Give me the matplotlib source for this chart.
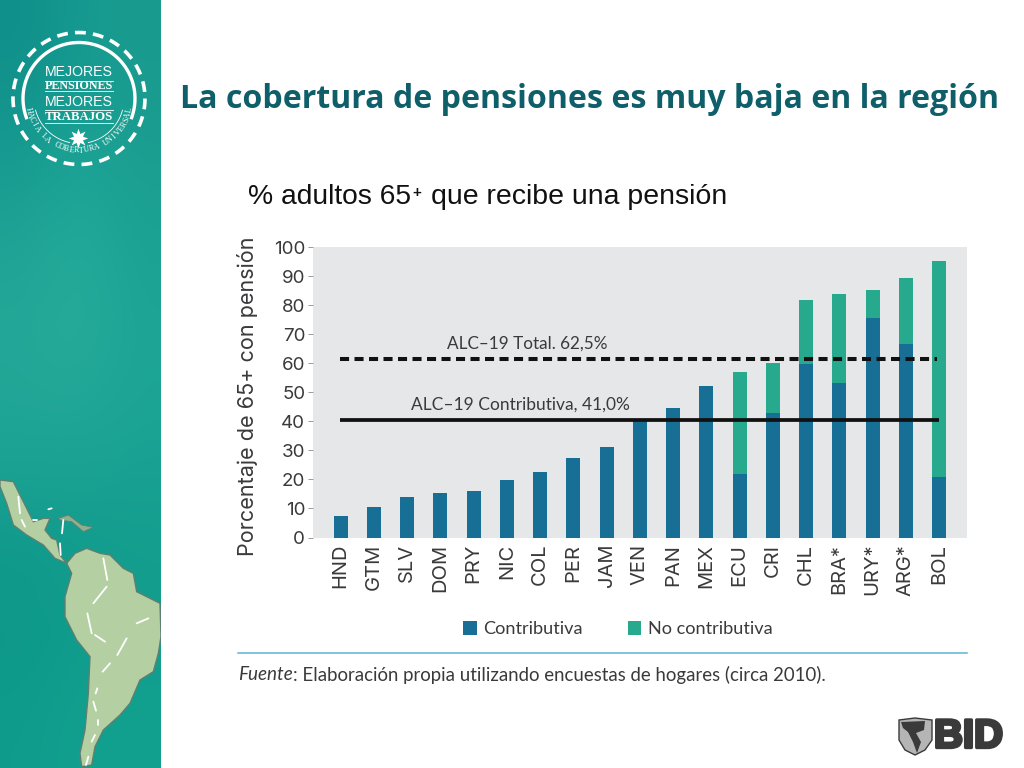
import numpy as np
import matplotlib
matplotlib.use("Agg")
import matplotlib.pyplot as plt
import matplotlib.patheffects as pe
from matplotlib.colors import to_rgb
from matplotlib.patches import Rectangle, Polygon

cats = ["HND","GTM","SLV","DOM","PRY","NIC","COL","PER","JAM","VEN","PAN","MEX","ECU","CRI","CHL","BRA*","URY*","ARG*","BOL"]
contrib = [7.3,10.6,13.9,15.3,15.9,19.7,22.5,27.2,31.2,40.3,44.7,52.0,21.9,43.0,59.8,53.2,75.6,66.7,20.9]
nocontrib = [0,0,0,0,0,0,0,0,0,0,0,0,34.9,17.1,22.0,30.6,9.7,22.6,74.4]
yticks = list(range(0,101,10))
total_avg = 61.5
contrib_avg = 40.3
BLUE="#186f96"; GREEN="#27a98d"; INK="#3a3a3c"
FONT="Inter"; FONT2="Lato"

W,H=1024,768
fig=plt.figure(figsize=(W/100,H/100),dpi=100,facecolor="white")
def axpx(x0,y0,x1,y1,**k):
    return fig.add_axes([x0/W,1-y1/H,(x1-x0)/W,(y1-y0)/H],**k)
def fit(t,width):
    r=fig.canvas.get_renderer()
    t.set_fontsize(t.get_fontsize()*width/t.get_window_extent(r).width)
    return t

# ---- sidebar background
side=axpx(0,0,161,768)
side.set_xlim(0,161); side.set_ylim(768,0); side.axis("off")
bg=np.array([[to_rgb(c) for c in row] for row in [
 ["#0f8f8a","#159a90","#1a9a8f"],
 ["#1a9f93","#1fa898","#1aa091"],
 ["#25a898","#2aae9c","#1fa596"],
 ["#1ea596","#1ea395","#1aa394"],
 ["#0c9688","#0e9a8a","#119c8c"],
 ["#0f9c8c","#12a08f","#12a08f"]]])
side.imshow(bg,extent=(0,161,768,0),aspect="auto",interpolation="bicubic")
side.set_xlim(0,161); side.set_ylim(768,0)

def zp(pts): return [(x/3,440+y/3) for x,y in pts]
land=zp([(0,120),(40,125),(55,155),(85,215),(100,245),(130,235),(150,235),(135,270),(155,295),(170,300),(180,345),(200,370),(225,340),(260,325),(300,340),(330,345),(370,385),(400,400),(410,455),(480,490),(483,590),(475,640),(460,695),(420,720),(390,790),(360,825),(310,870),(285,920),(275,975),(245,980),(240,940),(255,870),(265,760),(270,650),(230,600),(195,530),(195,470),(215,400),(200,370),(165,355),(130,315),(80,285),(40,255),(20,190),(0,140)])
side.add_patch(Polygon(land,fc="#b4d0a2",ec="#5f7f73",lw=1.0,zorder=3))
side.add_patch(Polygon(zp([(175,235),(205,225),(245,255),(280,262),(250,275),(215,245),(180,240)]),fc="#8fb08c",ec="#5f7f73",lw=0.6,zorder=3))
for seg in [[(55,170),(60,220)],[(65,240),(75,260)],[(310,355),(322,420)],[(320,440),(280,490)],[(262,520),(275,580)],[(285,585),(315,605)],[(410,550),(445,535)],[(380,595),(352,645)],[(330,670),(308,695)],[(292,745),(287,760)],[(280,785),(288,812)],[(294,840),(294,855)],[(285,885),(275,905)],[(265,950),(258,975)],[(180,310),(182,345)],[(190,240),(186,280)],[(145,208),(155,205)],[(100,240),(112,240)]]:
    xs,ys=zip(*zp(seg)); side.plot(xs,ys,color="white",lw=1.3,solid_capstyle="round",zorder=4)

# ---- round logo
cx,cy=79,98.5
th=np.linspace(0,2*np.pi,400)
side.plot(cx+66*np.cos(th),cy+66*np.sin(th),color="white",lw=2.6,ls=(0,(3.0,2.0)),zorder=5)
th=np.radians(np.linspace(160,380,200))
side.plot(cx+56*np.cos(th),cy+56*np.sin(th),color="white",lw=2.4,zorder=5)
for a,b in [(102,165),(15,78)]:
    th=np.radians(np.linspace(a,b,60))
    side.plot(cx+45*np.cos(th),cy+45*np.sin(th),color="white",lw=0.6,zorder=5)
for y,t,bold in [(72,"MEJORES",False),(86,"PENSIONES",True),(102,"MEJORES",False),(117,"TRABAJOS",True)]:
    tt=side.text(79,y,t,color="white",fontsize=10,ha="center",va="center",zorder=6,
        family="Liberation Serif" if bold else "Liberation Sans",fontweight="bold" if bold else "normal")
    fit(tt,68)
for y in [81,91,110,123]:
    side.plot([45,113],[y,y],color="white",lw=0.6,zorder=5)
side.plot([78],[138],marker=(8,1,0),ms=14,color="white",mew=0,zorder=6)
curved="HACIA LA COBERTURA UNIVERSAL"
for ch,a in zip(curved,np.linspace(167,13,len(curved))):
    r=np.radians(a)
    side.text(cx+52*np.cos(r),cy+52*np.sin(r),ch,color="white",fontsize=5.8,family="Liberation Serif",
        rotation=90-a,rotation_mode="anchor",ha="center",va="center",zorder=6)

# ---- headings
fit(fig.text(180/W,1-99/H,"La cobertura de pensiones es muy baja en la región",fontsize=23,fontweight="bold",color="#0f5f6b",family="Open Sans",va="center",ha="left"),821)
fit(fig.text(248/W,1-197/H,"% adultos 65",fontsize=20,family="Liberation Sans",va="center",color="#111111"),163)
fig.text(412/W,1-193/H,"+",fontsize=11,family="Liberation Sans",va="center",color="#111111",fontweight="bold")
fit(fig.text(431/W,1-197/H,"que recibe una pensión",fontsize=20,family="Liberation Sans",va="center",color="#111111"),295)

# ---- chart
ax=axpx(313,247,967,537.5,facecolor="#e6e7e9")
x=list(range(len(cats)))
ax.bar(x,contrib,0.42,color=BLUE,zorder=2)
ax.bar(x,nocontrib,0.42,bottom=contrib,color=GREEN,zorder=2)
ax.set_xlim(-0.833,18.84); ax.set_ylim(0,100)
for s in ax.spines.values(): s.set_visible(False)
ax.set_yticks(yticks); ax.set_xticks(x)
ax.set_xticklabels(cats,rotation=90,fontsize=14.5,color=INK,family=FONT)
ax.set_yticklabels([str(v) for v in yticks],fontsize=13.5,color=INK,family=FONT)
ax.tick_params(axis="y",length=3.6,color="#9a9a9a",width=0.7,pad=2)
ax.tick_params(axis="x",length=0,pad=4.5)
ax.plot([-0.02,17.95],[total_avg,total_avg],color="#111111",lw=2.9,ls=(0,(2.25,1.35)),dash_capstyle="butt",zorder=3)
ax.plot([-0.02,18.0],[contrib_avg,contrib_avg],color="#111111",lw=2.7,zorder=3,solid_capstyle="butt")
fit(ax.text(3.2,66.6,"ALC–19 Total. 62,5%",fontsize=12.5,color=INK,va="center",family=FONT2),161)
fit(ax.text(2.1,45.9,"ALC–19 Contributiva, 41,0%",fontsize=12.5,color=INK,va="center",family=FONT2),219)
t=fig.text(247/W,1-396/H,"Porcentaje de 65+ con pensión",rotation=90,fontsize=13.5,color=INK,family=FONT,va="center",ha="center")
r=fig.canvas.get_renderer(); t.set_fontsize(t.get_fontsize()*320/t.get_window_extent(r).height)

fig.add_artist(Rectangle((463/W,1-635/H),14/W,14/H,transform=fig.transFigure,fc=BLUE,ec="none"))
fig.add_artist(Rectangle((628/W,1-635/H),13/W,14/H,transform=fig.transFigure,fc=GREEN,ec="none"))
fit(fig.text(483/W,1-629/H,"Contributiva",fontsize=12.5,color=INK,va="center",family=FONT2),100)
fit(fig.text(648/W,1-629/H,"No contributiva",fontsize=12.5,color=INK,va="center",family=FONT2),125)
fig.add_artist(plt.Line2D([238/W,967/W],[1-652.7/H,1-652.7/H],color="#5fb4d4",lw=1.1))
fit(fig.text(238/W,1-675/H,"Fuente",fontsize=12.5,style="italic",color=INK,va="center",family=FONT2),55)
fit(fig.text(293/W,1-675/H,": Elaboración propia utilizando encuestas de hogares (circa 2010).",fontsize=12.2,color=INK,va="center",family=FONT2),534)

# ---- BID logo
logo=axpx(895,715,1010,760); logo.axis("off"); logo.set_xlim(895,1010); logo.set_ylim(760,715)
logo.add_patch(Polygon([(899,720),(915,718),(932,720),(932,740),(925,750),(915,755),(905,750),(899,740)],fc="#b5b5b5",ec="#3a3a3a",lw=1))
logo.add_patch(Polygon([(901,722),(925,721),(924,730),(916,733),(921,742),(917,753),(913,742),(908,732),(903,728)],fc="#3a3a3a",ec="none"))
fit(logo.text(934,736.5,"BID",fontsize=28,fontweight="bold",color="#3a3a3a",va="center",family="Liberation Sans",
    path_effects=[pe.withStroke(linewidth=2.4,foreground="#3a3a3a")]),69)
fig.savefig("out.png",dpi=100)
